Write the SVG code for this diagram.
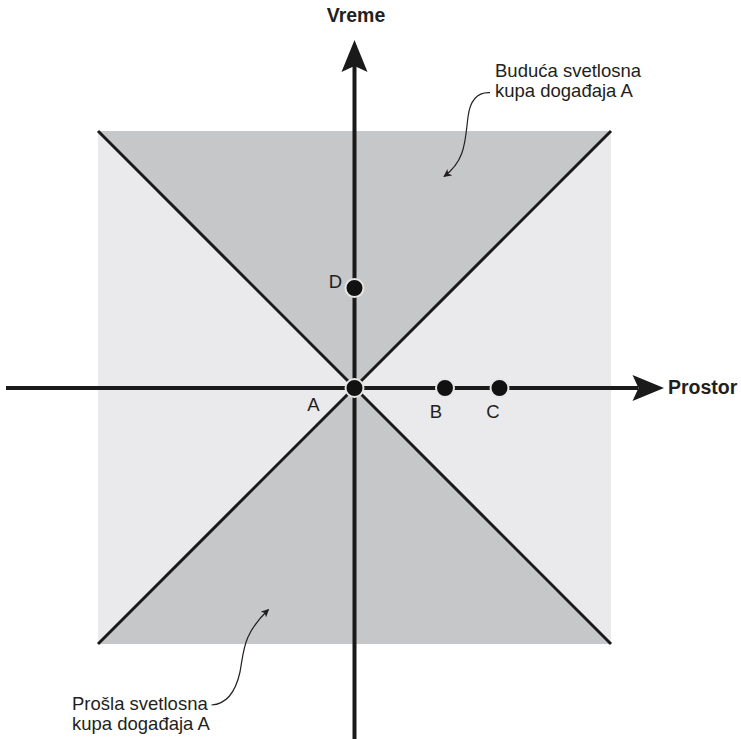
<svg xmlns="http://www.w3.org/2000/svg" width="741" height="739" viewBox="0 0 741 739">
  <style>
    .lbl { font-family: "Liberation Sans", Arial, sans-serif; font-size: 18.5px; fill: #231f20; }
    .ax { font-family: "Liberation Sans", Arial, sans-serif; font-size: 19.5px; font-weight: bold; fill: #231f20; }
    .axis { stroke: #1a1a1a; stroke-width: 4; fill: none; }
    .cone { stroke: #1a1a1a; stroke-width: 3; fill: none; }
    .leader { stroke: #231f20; stroke-width: 1.2; fill: none; marker-end: url(#sm); }
    .dot { fill: #111; stroke: #e6e6e6; stroke-width: 2; }
  </style>
  <defs>
    <marker id="sm" viewBox="0 0 10 10" refX="9" refY="5" markerWidth="8" markerHeight="8" markerUnits="userSpaceOnUse" orient="auto">
      <path d="M0,0 L10,5 L0,10 L2.5,5 Z" fill="#231f20"/>
    </marker>
  </defs>
  <rect width="741" height="739" fill="#ffffff"/>
  <g id="background">
    <rect x="98" y="131" width="513" height="513" fill="#eaeaec"/>
    <polygon points="98,131 611,131 354.5,387.5" fill="#c6c7c9"/>
    <polygon points="98,644 611,644 354.5,387.5" fill="#c6c7c9"/>
  </g>
  <g id="connectors">
    <line class="cone" x1="98" y1="131" x2="611" y2="644"/>
    <line class="cone" x1="611" y1="131" x2="98" y2="644"/>
    <line class="axis" x1="354.5" y1="739" x2="354.5" y2="66"/>
    <path d="M354.5,40 L367.5,72 L354.5,66 L341.5,72 Z" fill="#1a1a1a"/>
    <line class="axis" x1="6" y1="388" x2="638" y2="388"/>
    <path d="M664,388 L632.5,375 L638.5,388 L632.5,401 Z" fill="#1a1a1a"/>
    <path class="leader" d="M490,92.7 C477,92 470,101 468,117 C465,140 466,160 444,176.5"/>
    <path class="leader" d="M211.5,705 C228,704 236,690 240,672 C244,650 243,634 268.5,609.5"/>
  </g>
  <g id="axis-time">
    <text class="ax" x="356" y="22" text-anchor="middle">Vreme</text>
  </g>
  <g id="axis-space">
    <text class="ax" x="668" y="394">Prostor</text>
  </g>
  <g id="event-A">
    <circle class="dot" cx="354.5" cy="388" r="9"/>
    <text class="lbl" x="313.5" y="411" text-anchor="middle">A</text>
  </g>
  <g id="event-B">
    <circle class="dot" cx="445" cy="388" r="9"/>
    <text class="lbl" x="436" y="418" text-anchor="middle">B</text>
  </g>
  <g id="event-C">
    <circle class="dot" cx="499.5" cy="388" r="9"/>
    <text class="lbl" x="493" y="418" text-anchor="middle">C</text>
  </g>
  <g id="event-D">
    <circle class="dot" cx="354.5" cy="288" r="9"/>
    <text class="lbl" x="335.5" y="288" text-anchor="middle">D</text>
  </g>
  <g id="label-future">
    <text class="lbl" x="495" y="76.7">Buduća svetlosna</text>
    <text class="lbl" x="495" y="96.7">kupa događaja A</text>
  </g>
  <g id="label-past">
    <text class="lbl" x="72" y="710">Prošla svetlosna</text>
    <text class="lbl" x="72" y="730">kupa događaja A</text>
  </g>
</svg>
